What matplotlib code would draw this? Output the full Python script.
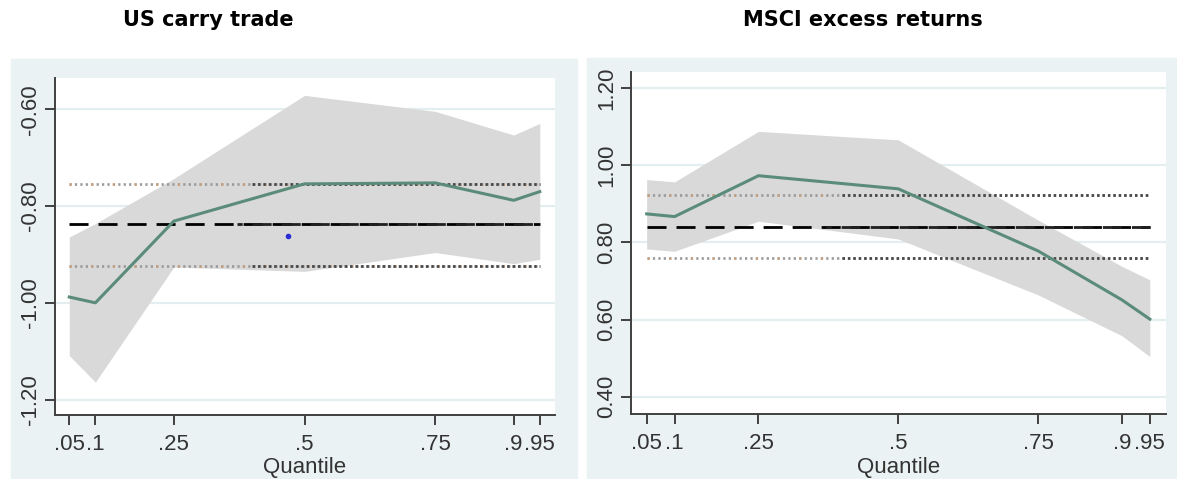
import matplotlib

matplotlib.use("Agg")
import matplotlib.pyplot as plt
from matplotlib.patches import Rectangle

plt.rcParams["font.family"] = ["Liberation Sans", "DejaVu Sans"]
plt.rcParams["lines.scale_dashes"] = False

# quantile grid used by both regressions
quantiles = [0.05, 0.10, 0.25, 0.50, 0.75, 0.90, 0.95]
tick_labels = [".05", ".1", ".25", ".5", ".75", ".9", ".95"]

# US carry trade: coefficient path, confidence band, OLS estimate and its band
carry_coef = [-0.988, -1.000, -0.831, -0.754, -0.752, -0.788, -0.770]
carry_hi = [-0.864, -0.836, -0.743, -0.571, -0.604, -0.653, -0.629]
carry_lo = [-1.109, -1.164, -0.926, -0.935, -0.896, -0.919, -0.910]
carry_ols = -0.838
carry_ols_hi = -0.754
carry_ols_lo = -0.923
carry_yticks = [-1.20, -1.00, -0.80, -0.60]
carry_stray = (0.469, -0.861)

# MSCI excess returns
msci_coef = [0.874, 0.867, 0.973, 0.939, 0.778, 0.651, 0.601]
msci_hi = [0.963, 0.957, 1.088, 1.066, 0.858, 0.738, 0.703]
msci_lo = [0.783, 0.777, 0.855, 0.809, 0.664, 0.558, 0.504]
msci_ols = 0.841
msci_ols_hi = 0.922
msci_ols_lo = 0.760
msci_yticks = [0.40, 0.60, 0.80, 1.00, 1.20]

PANEL_BG = "#eaf2f3"
GRID = "#e4eef0"
BAND = "#d9d9d9"
LINE = "#5b8c7a"
AXIS = "#404040"


def draw_panel(ax, coef, hi, lo, ols, ols_hi, ols_lo, yticks, ylim, title, title_x):
    ax.set_facecolor("white")
    for y in yticks:
        ax.axhline(y, color=GRID, lw=1.6, zorder=0)
    ax.fill_between(quantiles, lo, hi, color=BAND, lw=0, zorder=1)

    x0, x1 = quantiles[0], quantiles[-1]
    # reference lines: dotted bounds and dashed point estimate
    for y in (ols_hi, ols_lo):
        ax.plot([x0, x1], [y, y], color="#9a9a9a", lw=1.9,
                linestyle=(0, (1.6, 2.3)), zorder=2)
        ax.plot([x0, x1], [y, y], color="#d8a070", lw=1.9,
                linestyle=(0, (1.6, 14.0)), alpha=0.7, zorder=2)
        ax.plot([0.40, x1], [y, y], color="#4a4a4a", lw=2.0,
                linestyle=(0, (1.8, 2.1)), zorder=2)
    ax.plot([x0, x1], [ols, ols], color="black", lw=2.0,
            linestyle=(0, (13.7, 7.2)), zorder=3)
    ax.plot([0.37, x1], [ols, ols], color="#202020", lw=2.0,
            linestyle=(10.0, (13.7, 7.2)), zorder=3)

    ax.plot(quantiles, coef, color=LINE, lw=2.2, zorder=4)

    ax.set_xlim(0.022, 0.979)
    ax.set_ylim(*ylim)
    ax.set_xticks(quantiles)
    ax.set_xticklabels(tick_labels)
    ax.set_yticks(yticks)
    ax.set_yticklabels([f"{t:.2f}" for t in yticks], rotation=90, va="center")
    ax.tick_params(axis="both", direction="out", length=7, width=1.4,
                   color=AXIS, labelcolor="#333333", labelsize=16, pad=3)
    ax.tick_params(axis="x", pad=7)
    ax.set_xlabel("Quantile", fontsize=16, color="#333333")
    ax.xaxis.set_label_coords(0.5, -0.125)
    for side in ("top", "right"):
        ax.spines[side].set_visible(False)
    for side in ("left", "bottom"):
        ax.spines[side].set_color(AXIS)
        ax.spines[side].set_linewidth(1.4)
    fig.text(title_x, 0.958, title, ha="center", va="center", fontsize=15,
             fontweight="bold", family=["DejaVu Sans"])


fig = plt.figure(figsize=(11.77, 4.79), dpi=100)
fig.patches.append(Rectangle((11 / 1177, 0), 566 / 1177, 420 / 479,
                             transform=fig.transFigure, color=PANEL_BG, zorder=-10))
fig.patches.append(Rectangle((587 / 1177, 0), 590 / 1177, 421 / 479,
                             transform=fig.transFigure, color=PANEL_BG, zorder=-10))

ax1 = fig.add_axes([0.0464, 0.1336, 0.4251, 0.7036])
draw_panel(ax1, carry_coef, carry_hi, carry_lo, carry_ols, carry_ols_hi,
           carry_ols_lo, carry_yticks, (-1.232, -0.535), "US carry trade", 0.177)
ax1.plot(*carry_stray, "o", color="#2a2ad6", ms=3, zorder=5)

ax2 = fig.add_axes([0.5361, 0.1357, 0.4546, 0.7140])
draw_panel(ax2, msci_coef, msci_hi, msci_lo, msci_ols, msci_ols_hi,
           msci_ols_lo, msci_yticks, (0.355, 1.242), "MSCI excess returns", 0.733)

fig.savefig("out.png", dpi=100)
plt.close(fig)
